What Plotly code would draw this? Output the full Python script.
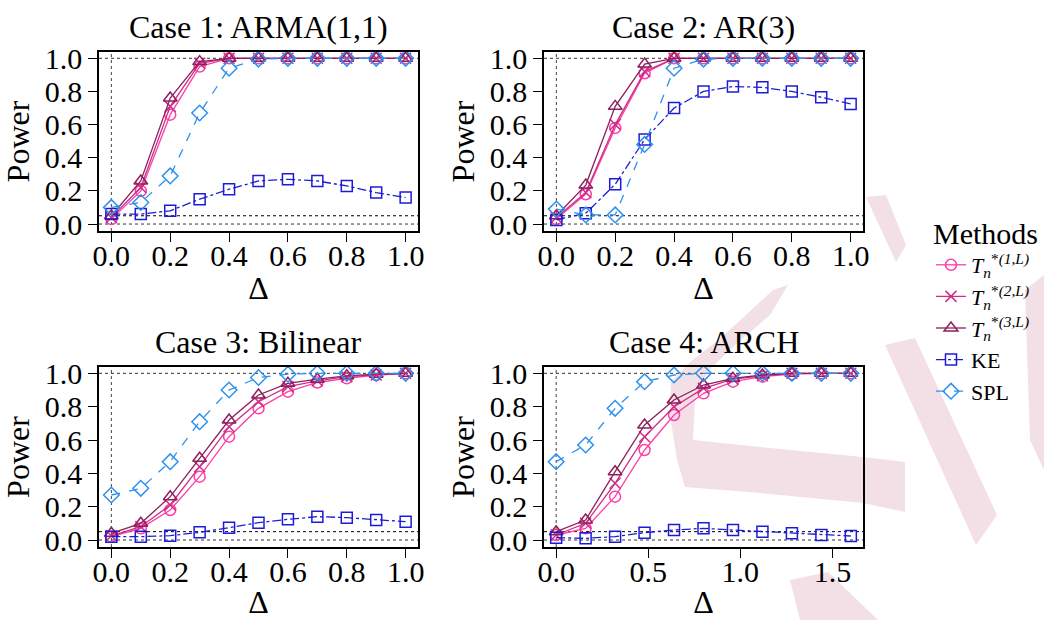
import plotly.graph_objects as go

W, H = 1044, 620

# ---------------- data ----------------
delta = [0.0, 0.1, 0.2, 0.3, 0.4, 0.5, 0.6, 0.7, 0.8, 0.9, 1.0]
delta_arch = [0.0, 0.16, 0.32, 0.48, 0.64, 0.80, 0.96, 1.12, 1.28, 1.44, 1.60]

methods = ["T1", "T2", "T3", "KE", "SPL"]
method_labels = [
    "<i>T</i><sub><i>n</i></sub><sup>*<i>(1,L)</i></sup>",
    "<i>T</i><sub><i>n</i></sub><sup>*<i>(2,L)</i></sup>",
    "<i>T</i><sub><i>n</i></sub><sup>*<i>(3,L)</i></sup>",
    "KE",
    "SPL",
]

# Case 1: ARMA(1,1)
arma_T1 = [0.03, 0.20, 0.66, 0.95, 1.00, 1.00, 1.00, 1.00, 1.00, 1.00, 1.00]
arma_T2 = [0.04, 0.22, 0.71, 0.97, 1.00, 1.00, 1.00, 1.00, 1.00, 1.00, 1.00]
arma_T3 = [0.05, 0.26, 0.76, 0.98, 1.00, 1.00, 1.00, 1.00, 1.00, 1.00, 1.00]
arma_KE = [0.06, 0.06, 0.08, 0.15, 0.21, 0.26, 0.27, 0.26, 0.23, 0.19, 0.16]
arma_SPL = [0.10, 0.13, 0.29, 0.67, 0.94, 0.995, 1.00, 1.00, 1.00, 1.00, 1.00]

# Case 2: AR(3)
ar_T1 = [0.03, 0.18, 0.58, 0.91, 1.00, 1.00, 1.00, 1.00, 1.00, 1.00, 1.00]
ar_T2 = [0.04, 0.19, 0.60, 0.92, 1.00, 1.00, 1.00, 1.00, 1.00, 1.00, 1.00]
ar_T3 = [0.05, 0.235, 0.71, 0.965, 1.00, 1.00, 1.00, 1.00, 1.00, 1.00, 1.00]
ar_KE = [0.025, 0.065, 0.24, 0.51, 0.70, 0.80, 0.83, 0.825, 0.80, 0.765, 0.725]
ar_SPL = [0.09, 0.055, 0.055, 0.48, 0.94, 0.995, 1.00, 1.00, 1.00, 1.00, 1.00]

# Case 3: Bilinear
bil_T1 = [0.02, 0.07, 0.18, 0.38, 0.62, 0.79, 0.89, 0.945, 0.97, 0.99, 1.00]
bil_T2 = [0.025, 0.08, 0.21, 0.44, 0.68, 0.83, 0.92, 0.955, 0.98, 0.99, 1.00]
bil_T3 = [0.04, 0.10, 0.26, 0.49, 0.72, 0.87, 0.94, 0.965, 0.985, 0.995, 1.00]
bil_KE = [0.02, 0.02, 0.026, 0.046, 0.074, 0.104, 0.124, 0.14, 0.134, 0.12, 0.11]
bil_SPL = [0.27, 0.31, 0.47, 0.71, 0.90, 0.975, 0.995, 1.00, 1.00, 1.00, 1.00]

# Case 4: ARCH
arch_T1 = [0.03, 0.07, 0.26, 0.54, 0.75, 0.88, 0.95, 0.98, 0.995, 1.00, 1.00]
arch_T2 = [0.03, 0.10, 0.34, 0.62, 0.80, 0.91, 0.965, 0.985, 1.00, 1.00, 1.00]
arch_T3 = [0.05, 0.12, 0.41, 0.69, 0.84, 0.93, 0.97, 0.99, 1.00, 1.00, 1.00]
arch_KE = [0.014, 0.01, 0.02, 0.044, 0.06, 0.07, 0.06, 0.05, 0.04, 0.03, 0.024]
arch_SPL = [0.47, 0.57, 0.79, 0.95, 0.99, 1.00, 1.00, 1.00, 1.00, 1.00, 1.00]

panel_titles = ["Case 1: ARMA(1,1)", "Case 2: AR(3)", "Case 3: Bilinear", "Case 4: ARCH"]
panel_x = [delta, delta, delta, delta_arch]
panel_series = [
    [arma_T1, arma_T2, arma_T3, arma_KE, arma_SPL],
    [ar_T1, ar_T2, ar_T3, ar_KE, ar_SPL],
    [bil_T1, bil_T2, bil_T3, bil_KE, bil_SPL],
    [arch_T1, arch_T2, arch_T3, arch_KE, arch_SPL],
]
x_ticks = [[0, 0.2, 0.4, 0.6, 0.8, 1.0]] * 3 + [[0, 0.5, 1.0, 1.5]]
y_ticks = [0, 0.2, 0.4, 0.6, 0.8, 1.0]
ref_levels = [0.0, 0.05, 1.0]

# ---------------- styles ----------------
colors = ["#FF3EA8", "#CC2F86", "#8E1F5E", "#1C1CD6", "#2E90F0"]
symbols = ["circle-open", "x-thin-open", "triangle-up-open", "square-open", "diamond-open"]
dashes = ["solid", "solid", "solid", "dashdot", "dash"]
msize = [11, 11, 12, 11, 12]

FONT = "'Liberation Serif', 'Times New Roman', 'DejaVu Serif', serif"

# panel boxes in pixels (left, right, top, bottom)
boxes = [(99, 418, 52, 231), (544, 863, 52, 231), (99, 418, 367, 547), (544, 863, 367, 547)]
x_ranges = [[-0.042, 1.042]] * 3 + [[-0.066, 1.666]]
y_range = [-0.042, 1.038]

fig = go.Figure()

# watermark (background decoration), pixel polygons
watermark = [
    [(773, 290), (788, 285), (770, 315), (735, 345), (707, 372), (695, 400), (693, 440),
     (760, 447), (863, 457), (905, 462), (905, 512), (863, 503), (760, 493), (685, 487),
     (677, 460), (670, 415), (671, 382), (690, 362), (722, 337)],
    [(866, 197), (886, 195), (906, 245), (896, 262)],
    [(885, 345), (915, 338), (997, 515), (976, 545)],
    [(1025, 290), (1044, 275), (1044, 470), (1030, 440)],
    [(790, 580), (828, 572), (878, 620), (800, 620)],
]
for poly in watermark:
    path = "M " + " L ".join(f"{px / W:.5f},{1 - py / H:.5f}" for px, py in poly) + " Z"
    fig.add_shape(type="path", path=path, xref="paper", yref="paper",
                  fillcolor="#F3E0E6", line=dict(width=0), layer="below")

for p in range(4):
    ax = "" if p == 0 else str(p + 1)
    xs = panel_x[p]
    for m in range(5):
        fig.add_trace(go.Scatter(
            x=xs, y=panel_series[p][m], mode="lines+markers",
            name=method_labels[m], legendgroup=methods[m], showlegend=(p == 0),
            line=dict(color=colors[m], width=1.3, dash=dashes[m]),
            marker=dict(symbol=symbols[m], size=msize[m], color=colors[m],
                        line=dict(width=1.5, color=colors[m])),
            xaxis="x" + ax, yaxis="y" + ax,
        ))
    # reference lines
    for lv in ref_levels:
        fig.add_shape(type="line", xref=f"x{ax} domain", yref="y" + ax,
                      x0=0, x1=1, y0=lv, y1=lv,
                      line=dict(color="#333333" if lv != 0.05 else "black", width=1, dash="dot"),
                      layer="below")
    fig.add_shape(type="line", xref="x" + ax, yref=f"y{ax} domain",
                  x0=0, x1=0, y0=0, y1=1,
                  line=dict(color="#444444", width=1, dash="dot"), layer="below")

    l, r, t, b = boxes[p]
    axis_common = dict(showline=True, mirror=True, linecolor="black", linewidth=1.5,
                       ticks="outside", ticklen=9, tickwidth=1, tickcolor="black",
                       showgrid=False, zeroline=False, automargin=False,
                       tickfont=dict(family=FONT, size=30, color="black"))
    fig.update_layout(**{
        "xaxis" + ax: dict(domain=[l / W, r / W], range=x_ranges[p], tickvals=x_ticks[p],
                           tickformat=".1f", anchor="y" + ax, ticklabelstandoff=-12,
                           title=dict(text="Δ", font=dict(family=FONT, size=32, color="black"),
                                      standoff=6),
                           **axis_common),
        "yaxis" + ax: dict(domain=[1 - b / H, 1 - t / H], range=y_range, tickvals=y_ticks,
                           tickformat=".1f", anchor="x" + ax,
                           title=dict(text="Power", font=dict(family=FONT, size=32, color="black"),
                                      standoff=6),
                           **axis_common),
    })
    fig.add_annotation(text=panel_titles[p], xref="paper", yref="paper",
                       x=(l + r) / 2 / W, y=1 - (t - 25) / H, xanchor="center", yanchor="middle",
                       showarrow=False, font=dict(family=FONT, size=32, color="black"))

fig.update_layout(
    width=W, height=H,
    margin=dict(l=0, r=0, t=0, b=0, autoexpand=False),
    paper_bgcolor="white", plot_bgcolor="rgba(0,0,0,0)",
    font=dict(family=FONT, color="black"),
    showlegend=True,
    legend=dict(x=931 / W, y=1 - 205 / H, xanchor="left", yanchor="top",
                bgcolor="rgba(0,0,0,0)", borderwidth=0,
                font=dict(family=FONT, size=22, color="black"),
                title=dict(text="Methods", font=dict(family=FONT, size=30, color="black")),
                itemwidth=30, tracegroupgap=0),
)

fig.write_html("out.html", config={"displayModeBar": False},
               post_script="document.body.style.margin='0px';")
